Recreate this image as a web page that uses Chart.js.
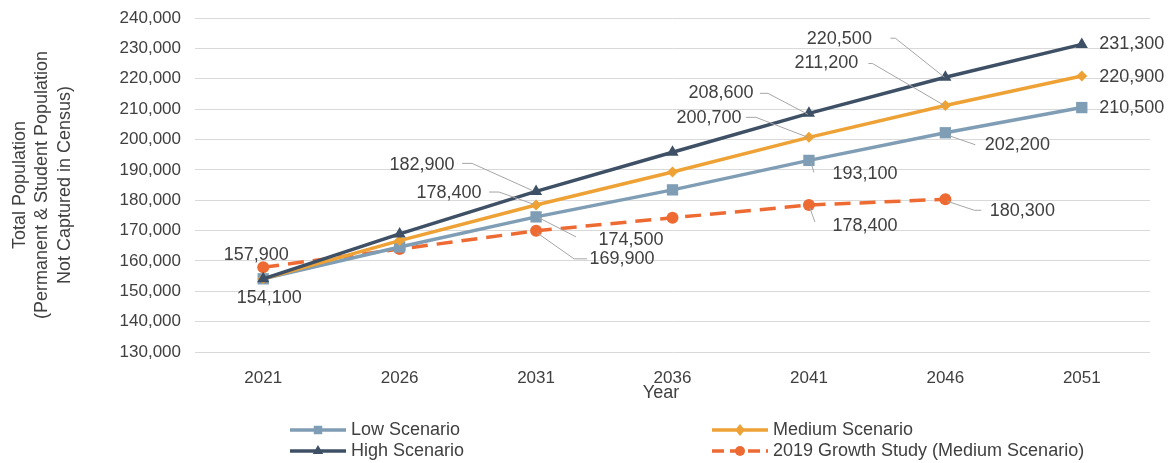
<!DOCTYPE html>
<html>
<head>
<meta charset="utf-8">
<title>Population Projections</title>
<script src="https://cdn.jsdelivr.net/npm/chart.js@4.4.1/dist/chart.umd.min.js"></script>
<style>
  html, body { margin: 0; padding: 0; background: #ffffff; }
  #wrap { width: 1168px; height: 463px; }
</style>
</head>
<body>
<div id="wrap"><canvas id="chart" width="1168" height="463"></canvas></div>
<script>
// ---- Data ----
const years = ['2021', '2026', '2031', '2036', '2041', '2046', '2051'];
const lowScenario = [154100, 164600, 174500, 183400, 193100, 202200, 210500];
const mediumScenario = [154100, 166700, 178400, 189300, 200700, 211200, 220900];
const highScenario = [154100, 168900, 182900, 195800, 208600, 220500, 231300];
const growthStudy2019 = [157900, 163900, 169900, 174200, 178400, 180300, null];
const yTickMin = 130000;
const yTickMax = 240000;
const yTickStep = 10000;

// ---- Styles ----
const FONT = "'Liberation Sans', Arial, sans-serif";
const TEXT = '#404040';
const LEADER = '#a6a6a6';
const C_LOW = '#7f9db4';
const C_MED = '#eea236';
const C_HIGH = '#3e5065';
const C_GROW = '#ee6a33';

const fmt = v => v.toLocaleString('en-US');

const datasets = [
  { key: 'high', label: 'High Scenario', data: highScenario, borderColor: C_HIGH, backgroundColor: C_HIGH,
    pointStyle: 'triangle', pointRadius: 7, order: 0 },
  { key: 'med', label: 'Medium Scenario', data: mediumScenario, borderColor: C_MED, backgroundColor: C_MED,
    pointStyle: 'rectRot', pointRadius: 5.5, order: 1 },
  { key: 'low', label: 'Low Scenario', data: lowScenario, borderColor: C_LOW, backgroundColor: C_LOW,
    pointStyle: 'rect', pointRadius: 8, order: 2 },
  { key: 'grow', label: '2019 Growth Study (Medium Scenario)', data: growthStudy2019, borderColor: C_GROW, backgroundColor: C_GROW,
    pointStyle: 'circle', pointRadius: 6, borderDash: [16, 9], order: 3 }
].map(d => Object.assign({ borderWidth: 3.5, pointBorderWidth: 0, pointHoverRadius: d.pointRadius,
  tension: 0, fill: false, spanGaps: false, clip: false }, d));

// Value label placement: offsets of text centre and leader path from the point, in px
const labelPlacement = [
  { key: 'grow', i: 0, dx: -7,   dy: -12 },
  { key: 'low',  i: 0, dx: 6,    dy: 19 },
  { key: 'high', i: 2, dx: -114, dy: -26, leader: [[-74, -28], [-64, -28], [-4, -1]] },
  { key: 'med',  i: 2, dx: -87,  dy: -12, leader: [[-47, -13], [-37, -13], [-3, -1]] },
  { key: 'low',  i: 2, dx: 95,   dy: 23,  leader: [[3, 1], [40, 20]] },
  { key: 'grow', i: 2, dx: 86,   dy: 28,  leader: [[1, 2], [38, 28], [51, 28]] },
  { key: 'high', i: 4, dx: -88,  dy: -20, leader: [[-49, -20], [-41, -20], [-1, 1]] },
  { key: 'med',  i: 4, dx: -100, dy: -19, leader: [[-63, -20], [-53, -20], [-1, 0]] },
  { key: 'low',  i: 4, dx: 56,   dy: 14,  leader: [[2, 2], [5, 12]] },
  { key: 'grow', i: 4, dx: 56,   dy: 21,  leader: [[1, 3], [6, 17]] },
  { key: 'high', i: 5, dx: -106, dy: -38, leader: [[-55, -39], [-50, -39], [-1, 0]] },
  { key: 'med',  i: 5, dx: -119, dy: -42, leader: [[-77, -42], [-73, -42], [-1, 0]] },
  { key: 'low',  i: 5, dx: 72,   dy: 12,  leader: [[4, 3], [30, 12]] },
  { key: 'grow', i: 5, dx: 77,   dy: 12,  leader: [[2, 2], [29, 11], [36, 11]] },
  { key: 'high', i: 6, dx: 50,   dy: 0 },
  { key: 'med',  i: 6, dx: 50,   dy: 1 },
  { key: 'low',  i: 6, dx: 50,   dy: 0 }
];

// Legend layout: two columns, two rows
const legendItems = [
  { key: 'low',  x: 290, y: 430 },
  { key: 'high', x: 290, y: 451 },
  { key: 'med',  x: 712, y: 430 },
  { key: 'grow', x: 712, y: 451 }
];

function drawMarker(ctx, style, x, y, r, color) {
  ctx.save();
  ctx.fillStyle = color;
  ctx.beginPath();
  if (style === 'rect') {
    const s = r * Math.SQRT1_2;
    ctx.rect(x - s, y - s, 2 * s, 2 * s);
  } else if (style === 'rectRot') {
    ctx.moveTo(x, y - r); ctx.lineTo(x + r * 0.8, y); ctx.lineTo(x, y + r); ctx.lineTo(x - r * 0.8, y);
    ctx.closePath();
  } else if (style === 'triangle') {
    ctx.moveTo(x, y - r); ctx.lineTo(x + r * 0.87, y + r * 0.5); ctx.lineTo(x - r * 0.87, y + r * 0.5);
    ctx.closePath();
  } else {
    ctx.arc(x, y, r, 0, Math.PI * 2);
  }
  ctx.fill();
  ctx.restore();
}

const decorPlugin = {
  id: 'decor',
  afterDatasetsDraw(chart) {
    const ctx = chart.ctx;
    // value labels with leader lines
    ctx.save();
    ctx.font = `18px ${FONT}`;
    ctx.fillStyle = TEXT;
    ctx.textAlign = 'center';
    ctx.textBaseline = 'middle';
    labelPlacement.forEach(p => {
      const dsIndex = chart.data.datasets.findIndex(d => d.key === p.key);
      const el = chart.getDatasetMeta(dsIndex).data[p.i];
      const value = chart.data.datasets[dsIndex].data[p.i];
      if (!el || value == null) return;
      if (p.leader) {
        ctx.save();
        ctx.strokeStyle = LEADER;
        ctx.lineWidth = 1;
        ctx.beginPath();
        p.leader.forEach((pt, k) => {
          const fn = k === 0 ? 'moveTo' : 'lineTo';
          ctx[fn](el.x + pt[0], el.y + pt[1]);
        });
        ctx.stroke();
        ctx.restore();
      }
      ctx.fillText(fmt(value), el.x + p.dx, el.y + p.dy);
    });
    ctx.restore();
  },
  afterDraw(chart) {
    const ctx = chart.ctx;
    // y-axis title
    ctx.save();
    ctx.font = `18px ${FONT}`;
    ctx.fillStyle = TEXT;
    ctx.textAlign = 'center';
    ctx.textBaseline = 'middle';
    const yMid = (chart.chartArea.top + chart.chartArea.bottom) / 2;
    ['Total Population', '(Permanent & Student Population', 'Not Captured in Census)'].forEach((line, k) => {
      ctx.save();
      ctx.translate(20 + k * 22.5, yMid);
      ctx.rotate(-Math.PI / 2);
      ctx.fillText(line, 0, 0);
      ctx.restore();
    });
    // x-axis title
    ctx.fillText('Year', 661, 393);
    ctx.restore();

    // legend
    ctx.save();
    ctx.font = `18px ${FONT}`;
    ctx.textAlign = 'left';
    ctx.textBaseline = 'middle';
    legendItems.forEach(item => {
      const ds = chart.data.datasets.find(d => d.key === item.key);
      ctx.save();
      ctx.strokeStyle = ds.borderColor;
      ctx.lineWidth = 3.5;
      if (ds.borderDash) ctx.setLineDash([12, 6]);
      ctx.beginPath();
      ctx.moveTo(item.x, item.y);
      ctx.lineTo(item.x + 56, item.y);
      ctx.stroke();
      ctx.restore();
      drawMarker(ctx, ds.pointStyle, item.x + 28, item.y, ds.pointStyle === 'circle' ? 5 : 6, ds.backgroundColor);
      ctx.fillStyle = TEXT;
      ctx.fillText(ds.label, item.x + 61, item.y);
    });
    ctx.restore();
  }
};

new Chart(document.getElementById('chart'), {
  type: 'line',
  data: { labels: years, datasets },
  plugins: [decorPlugin],
  options: {
    responsive: false,
    animation: false,
    events: [],
    layout: { padding: { top: 18, right: 18, bottom: 0, left: 0 } },
    plugins: { legend: { display: false }, tooltip: { enabled: false } },
    scales: {
      x: {
        type: 'category',
        offset: true,
        grid: { display: false, drawTicks: false },
        border: { display: false },
        ticks: { color: TEXT, font: { family: FONT, size: 17 }, padding: 16, maxRotation: 0 },
        afterFit(scale) { scale.height = 463 - 352; }
      },
      y: {
        min: yTickMin,
        max: yTickMax,
        grid: { color: '#d9d9d9', lineWidth: 1, drawTicks: false },
        border: { display: false },
        ticks: { stepSize: yTickStep, color: TEXT, font: { family: FONT, size: 17 }, padding: 14,
          callback: v => fmt(v) },
        afterFit(scale) {
          scale.width = 195;
          // only the tick label half-height may overhang the plot area
          scale.paddingTop = 10;
          scale.paddingBottom = 10;
        }
      }
    }
  }
});
</script>
</body>
</html>
